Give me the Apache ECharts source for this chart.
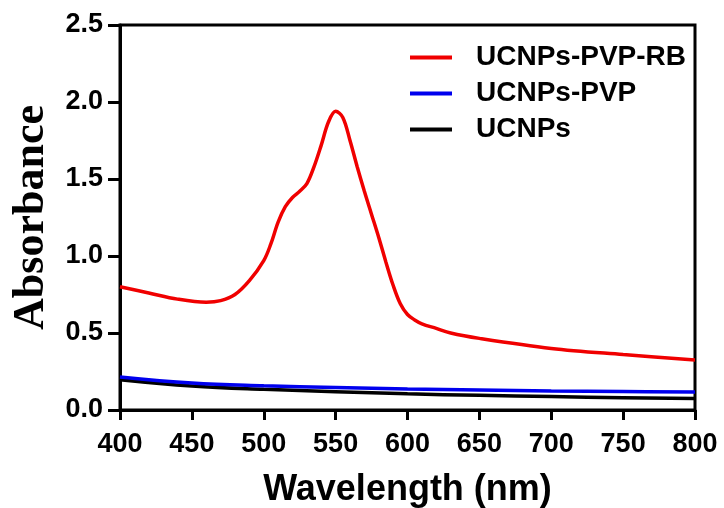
<!DOCTYPE html>
<html>
<head>
<meta charset="utf-8">
<script src="https://cdn.jsdelivr.net/npm/echarts@6/dist/echarts.min.js"></script>
<style>
  html, body { margin: 0; padding: 0; background: #fff; }
  #chart { width: 724px; height: 508px; }
</style>
</head>
<body>
<div id="chart"></div>
<script>
// absorbance spectra
var wlRB = [400, 420, 440, 460, 470, 480, 490, 500, 505, 510, 515, 520, 525, 530, 535, 540, 545, 550,
            555, 560, 565, 570, 575, 580, 585, 590, 595, 600, 605, 610, 620, 630, 650, 700, 750, 800]
var absRB = [0.80, 0.76, 0.72, 0.70, 0.71, 0.75, 0.84, 0.97, 1.08, 1.22, 1.32, 1.38, 1.42, 1.47, 1.58, 1.72, 1.87, 1.94,
             1.90, 1.75, 1.58, 1.42, 1.27, 1.12, 0.96, 0.81, 0.69, 0.62, 0.585, 0.56, 0.53, 0.50, 0.465, 0.40, 0.36, 0.325]

var wlBase = [400, 450, 500, 550, 600, 650, 700, 750, 800]
var absPVP = [0.215, 0.175, 0.157, 0.146, 0.137, 0.130, 0.124, 0.120, 0.117]
var absUC  = [0.197, 0.156, 0.134, 0.119, 0.105, 0.095, 0.087, 0.080, 0.074]

var names = ['UCNPs-PVP-RB', 'UCNPs-PVP', 'UCNPs']
var colors = ['#f00000', '#0000ee', '#000000']

function pairs(xs, ys) {
  return xs.map(function(x, i) { return [x, ys[i]] })
}

var chart = echarts.init(document.getElementById('chart'), null, { renderer: 'canvas' })

var sans = "'Liberation Sans', Arial, sans-serif"

chart.setOption({
  backgroundColor: '#fff',
  animation: false,
  grid: {
    left: 120, right: 29, top: 25, bottom: 98,
    outerBoundsMode: 'none',
    show: true, borderColor: '#000', borderWidth: 3
  },
  legend: {
    orient: 'vertical',
    left: 405, top: 38,
    icon: 'rect',
    itemWidth: 42, itemHeight: 4,
    itemGap: 7,
    data: names,
    textStyle: {
      fontFamily: sans, fontWeight: 'bold', fontSize: 28, color: '#000',
      lineHeight: 29, padding: [0, 0, 0, 19]
    }
  },
  xAxis: {
    type: 'value', min: 400, max: 800, interval: 50,
    name: 'Wavelength (nm)', nameLocation: 'middle', nameGap: 62,
    nameTextStyle: { fontFamily: sans, fontWeight: 'bold', fontSize: 36, color: '#000' },
    axisLine: { lineStyle: { color: '#000', width: 3 } },
    axisTick: { length: 10, lineStyle: { color: '#000', width: 3 } },
    axisLabel: { margin: 21, fontFamily: sans, fontWeight: 'bold', fontSize: 27, color: '#000' },
    splitLine: { show: false }
  },
  yAxis: {
    type: 'value', min: 0, max: 2.5, interval: 0.5,
    name: 'Absorbance', nameLocation: 'middle', nameGap: 66,
    nameTextStyle: { fontFamily: "'Liberation Serif', 'Times New Roman', serif", fontWeight: 'bold', fontSize: 44, color: '#000' },
    axisLine: { lineStyle: { color: '#000', width: 3 } },
    axisTick: { length: 12, lineStyle: { color: '#000', width: 3 } },
    axisLabel: {
      margin: 17, fontFamily: sans, fontWeight: 'bold', fontSize: 27, color: '#000',
      formatter: function(v) { return v.toFixed(1) }
    },
    splitLine: { show: false }
  },
  series: [
    {
      name: names[0], type: 'line', data: pairs(wlRB, absRB),
      smooth: 0.35, showSymbol: false, symbol: 'none',
      lineStyle: { color: colors[0], width: 3.5 }, itemStyle: { color: colors[0] }
    },
    {
      name: names[1], type: 'line', data: pairs(wlBase, absPVP),
      smooth: 0.4, showSymbol: false, symbol: 'none',
      lineStyle: { color: colors[1], width: 3.5 }, itemStyle: { color: colors[1] }
    },
    {
      name: names[2], type: 'line', data: pairs(wlBase, absUC),
      smooth: 0.4, showSymbol: false, symbol: 'none', z: 1,
      lineStyle: { color: colors[2], width: 3.5 }, itemStyle: { color: colors[2] }
    }
  ]
})
</script>
</body>
</html>
